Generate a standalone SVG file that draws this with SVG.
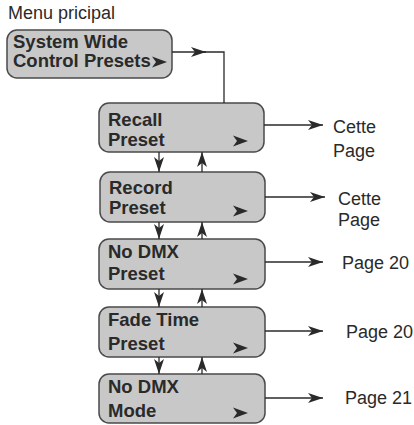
<svg xmlns="http://www.w3.org/2000/svg" width="414" height="425" viewBox="0 0 414 425">
<style>
.box{fill:#c8c8c8;stroke:#4a4a4a;stroke-width:1.5}
.bt{font-family:"Liberation Sans",Arial,sans-serif;font-weight:bold;font-size:18.5px;fill:#2a2a2a}
.lt{font-family:"Liberation Sans",Arial,sans-serif;font-size:18px;fill:#2a2a2a}
.ln{fill:none;stroke:#2a2a2a;stroke-width:1.3}
.chev{fill:#2a2a2a}
</style>
<defs>
<marker id="ah" markerWidth="15" markerHeight="10" refX="15" refY="5" orient="auto" markerUnits="userSpaceOnUse"><path d="M0,0 L15,5 L0,10 L4,5 Z" fill="#2a2a2a"/></marker>
<path id="cv" d="M0,0 L15,5.5 L0,11 L4,5.5 Z"/>
</defs>
<text class="lt" x="8" y="19">Menu pricipal</text>
<g id="n0">
<rect class="box" x="7" y="30" width="165" height="48" rx="10"/>
<text class="bt" x="13" y="48">System Wide</text>
<text class="bt" x="13" y="67">Control Presets</text>
<use href="#cv" class="chev" x="152" y="56.5"/>
</g>
<g id="n1">
<rect class="box" x="99" y="103" width="165" height="49" rx="10"/>
<text class="bt" x="108" y="126">Recall</text>
<text class="bt" x="108" y="146">Preset</text>
<use href="#cv" class="chev" x="233" y="135.5"/>
</g>
<g id="n2">
<rect class="box" x="100" y="172" width="165" height="50" rx="10"/>
<text class="bt" x="109" y="194">Record</text>
<text class="bt" x="109" y="214">Preset</text>
<use href="#cv" class="chev" x="233" y="205.5"/>
</g>
<g id="n3">
<rect class="box" x="99" y="239" width="166" height="50" rx="10"/>
<text class="bt" x="108" y="258">No DMX</text>
<text class="bt" x="108" y="280">Preset</text>
<use href="#cv" class="chev" x="233" y="273.5"/>
</g>
<g id="n4">
<rect class="box" x="99" y="307" width="166" height="50" rx="10"/>
<text class="bt" x="108" y="326">Fade Time</text>
<text class="bt" x="108" y="350">Preset</text>
<use href="#cv" class="chev" x="233" y="342.5"/>
</g>
<g id="n5">
<rect class="box" x="99" y="374" width="166" height="49" rx="10"/>
<text class="bt" x="108" y="393">No DMX</text>
<text class="bt" x="108" y="417">Mode</text>
<use href="#cv" class="chev" x="233" y="407.5"/>
</g>
<g id="labels">
<text class="lt" x="333" y="133">Cette</text>
<text class="lt" x="333" y="157">Page</text>
<text class="lt" x="338" y="205">Cette</text>
<text class="lt" x="338" y="226">Page</text>
<text class="lt" x="342" y="269">Page 20</text>
<text class="lt" x="346" y="338">Page 20</text>
<text class="lt" x="345" y="404">Page 21</text>
</g>
<g id="connectors">
<path class="ln" d="M172,52 H206" marker-end="url(#ah)"/>
<path class="ln" d="M200,52 H224 V103"/>
<path class="ln" d="M264,125 H323" marker-end="url(#ah)"/>
<path class="ln" d="M265,197 H325" marker-end="url(#ah)"/>
<path class="ln" d="M265,262 H323" marker-end="url(#ah)"/>
<path class="ln" d="M265,331 H323" marker-end="url(#ah)"/>
<path class="ln" d="M265,398 H323" marker-end="url(#ah)"/>
<path class="ln" d="M159,152 V172" marker-end="url(#ah)"/>
<path class="ln" d="M202,172 V152" marker-end="url(#ah)"/>
<path class="ln" d="M159,222 V239" marker-end="url(#ah)"/>
<path class="ln" d="M202,239 V222" marker-end="url(#ah)"/>
<path class="ln" d="M159,289 V307" marker-end="url(#ah)"/>
<path class="ln" d="M202,307 V289" marker-end="url(#ah)"/>
<path class="ln" d="M159,357 V374" marker-end="url(#ah)"/>
<path class="ln" d="M202,374 V357" marker-end="url(#ah)"/>
</g>
</svg>
